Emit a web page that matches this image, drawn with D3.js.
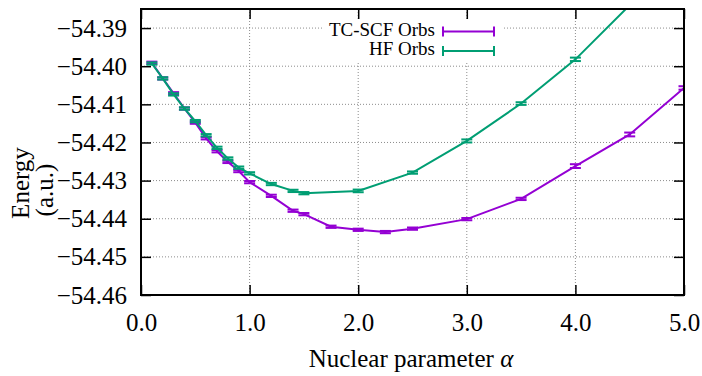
<!DOCTYPE html>
<html>
<head>
<meta charset="utf-8">
<script src="https://cdn.jsdelivr.net/npm/d3@7"></script>
<style>
body { margin: 0; background: #fff; }
#graph text { font-family: "Liberation Serif", serif; }
</style>
</head>
<body>
<svg id="graph" width="702" height="376"></svg>
<script>
// datos
var alphaTC = [0.1, 0.2, 0.3, 0.4, 0.5, 0.6, 0.7, 0.8, 0.9, 1.0, 1.2, 1.4, 1.5, 1.75, 2.0, 2.25, 2.5, 3.0, 3.5, 4.0, 4.5, 5.0];
var energyTC = [-54.3991, -54.4032, -54.4071, -54.4111, -54.4148, -54.4189, -54.4223, -54.4251, -54.4275, -54.4304,
    -54.4340, -54.4379, -54.4388, -54.4421, -54.4429, -54.4435, -54.4426, -54.4401, -54.4348, -54.4262, -54.4179, -54.4057];
var errTC = [0.0003, 0.0003, 0.0003, 0.0003, 0.0003, 0.0003, 0.0003, 0.0003, 0.0003, 0.0003,
    0.0003, 0.0003, 0.0003, 0.0003, 0.0003, 0.0003, 0.0003, 0.0003, 0.0003, 0.0005, 0.0005, 0.00045];

var alphaHF = [0.1, 0.2, 0.3, 0.4, 0.5, 0.6, 0.7, 0.8, 0.9, 1.0, 1.2, 1.4, 1.5, 2.0, 2.5, 3.0, 3.5, 4.0, 4.5];
var energyHF = [-54.3993, -54.4032, -54.4074, -54.4111, -54.4144, -54.4181, -54.4214, -54.4242, -54.4266, -54.4281,
    -54.4309, -54.4327, -54.4333, -54.4327, -54.4279, -54.4196, -54.4098, -54.3982, -54.3840];
var errHF = [0.0003, 0.0003, 0.0003, 0.0003, 0.0003, 0.0003, 0.0003, 0.0003, 0.0003, 0.0003,
    0.0003, 0.0003, 0.0003, 0.00035, 0.0003, 0.0004, 0.00035, 0.00045, 0.0005];

var seriesNames = ["TC-SCF Orbs", "HF Orbs"];
var colores = ["#9400d3", "#009e73"];

var xTicks = [0, 1, 2, 3, 4, 5];
var yTicks = [-54.46, -54.45, -54.44, -54.43, -54.42, -54.41, -54.40, -54.39];

function creaGrafica() {
    var series = [
        { name: seriesNames[0], color: colores[0], pts: alphaTC.map((a, i) => ({ a: a, e: energyTC[i], err: errTC[i] })) },
        { name: seriesNames[1], color: colores[1], pts: alphaHF.map((a, i) => ({ a: a, e: energyHF[i], err: errHF[i] })) }
    ];

    var svg = d3.select("#graph");
    var margin = { top: 9, right: 18, bottom: 81, left: 141 };
    var width = +svg.attr("width") - margin.left - margin.right;
    var height = +svg.attr("height") - margin.top - margin.bottom;
    var g = svg.append("g").attr("transform", "translate(" + margin.left + "," + margin.top + ")");

    var x = d3.scaleLinear().domain([0, 5]).range([0, width]);
    var y = d3.scaleLinear().domain([-54.46, -54.385]).range([height, 0]);

    // clip para el area de la grafica
    svg.append("defs").append("clipPath").attr("id", "clip")
        .append("rect").attr("width", width).attr("height", height);

    // grid punteado
    var grid = g.append("g").attr("class", "grid")
        .attr("stroke", "#8c8c8c").attr("stroke-width", 1).attr("stroke-dasharray", "1,2");
    grid.selectAll(".gx").data(xTicks.slice(1, -1)).enter().append("line")
        .attr("x1", d => x(d)).attr("x2", d => x(d))
        .attr("y1", 0).attr("y2", height);
    grid.selectAll(".gy").data(yTicks.slice(1)).enter().append("line")
        .attr("x1", 0).attr("x2", width)
        .attr("y1", d => y(d)).attr("y2", d => y(d));

    // ejes con ticks hacia adentro
    var fmtX = d3.format(".1f"), fmtY = d3.format(".2f");
    var xaxis = g.append("g").attr("transform", "translate(0," + height + ")")
        .call(d3.axisBottom(x).tickValues(xTicks).tickFormat(fmtX).tickSizeInner(-10).tickSizeOuter(0).tickPadding(18));
    var xaxisTop = g.append("g")
        .call(d3.axisTop(x).tickValues(xTicks).tickFormat("").tickSizeInner(-10).tickSizeOuter(0));
    var yaxis = g.append("g")
        .call(d3.axisLeft(y).tickValues(yTicks).tickFormat(fmtY).tickSizeInner(-10).tickSizeOuter(0).tickPadding(14));
    var yaxisR = g.append("g").attr("transform", "translate(" + width + ",0)")
        .call(d3.axisRight(y).tickValues(yTicks).tickFormat("").tickSizeInner(-10).tickSizeOuter(0));

    [xaxis, xaxisTop, yaxis, yaxisR].forEach(a => {
        a.attr("font-family", "Liberation Serif").attr("font-size", 25);
        a.select(".domain").remove();
        a.selectAll("line").attr("stroke", "#000").attr("stroke-width", 1.5);
        a.selectAll("text")
            .attr("font-family", "Liberation Serif")
            .style("font-size", "25px")
            .attr("fill", "#000");
    });

    // lineas + barras de error
    var plot = g.append("g").attr("clip-path", "url(#clip)");
    var line = d3.line().x(d => x(d.a)).y(d => y(d.e));
    var capW = 5.5;

    series.forEach(s => {
        plot.append("path").datum(s.pts)
            .attr("d", line)
            .attr("fill", "none")
            .attr("stroke", s.color)
            .attr("stroke-width", 2);

        var eb = plot.append("g").attr("stroke", s.color).attr("stroke-width", 2)
            .selectAll("g").data(s.pts).enter().append("g");
        eb.append("line")
            .attr("x1", d => x(d.a)).attr("x2", d => x(d.a))
            .attr("y1", d => y(d.e - d.err)).attr("y2", d => y(d.e + d.err));
        eb.append("line")
            .attr("x1", d => x(d.a) - capW).attr("x2", d => x(d.a) + capW)
            .attr("y1", d => y(d.e - d.err)).attr("y2", d => y(d.e - d.err));
        eb.append("line")
            .attr("x1", d => x(d.a) - capW).attr("x2", d => x(d.a) + capW)
            .attr("y1", d => y(d.e + d.err)).attr("y2", d => y(d.e + d.err));
    });

    // borde
    g.append("rect").attr("width", width).attr("height", height)
        .attr("fill", "none").attr("stroke", "#000").attr("stroke-width", 2);

    // leyenda (caja opaca)
    svg.append("rect").attr("x", 322).attr("y", 21).attr("width", 180).attr("height", 40).attr("fill", "#fff");
    var leg = svg.append("g").selectAll("g").data(series).enter().append("g")
        .attr("transform", (d, i) => "translate(0," + (31.5 + i * 19.5) + ")");
    leg.append("text")
        .attr("x", 435).attr("y", 4)
        .attr("text-anchor", "end")
        .style("font-size", "19px")
        .text(d => d.name);
    leg.append("line").attr("x1", 443).attr("x2", 494).attr("y1", 0).attr("y2", 0)
        .attr("stroke", d => d.color).attr("stroke-width", 2);
    leg.append("line").attr("x1", 443).attr("x2", 443).attr("y1", -5).attr("y2", 5)
        .attr("stroke", d => d.color).attr("stroke-width", 2);
    leg.append("line").attr("x1", 494).attr("x2", 494).attr("y1", -5).attr("y2", 5)
        .attr("stroke", d => d.color).attr("stroke-width", 2);

    // titulos de ejes
    var xl = svg.append("text")
        .attr("x", 411).attr("y", 367)
        .attr("text-anchor", "middle")
        .style("font-size", "25px");
    xl.append("tspan").text("Nuclear parameter ");
    xl.append("tspan").attr("font-style", "italic").text("α");

    svg.append("text")
        .attr("transform", "translate(29,183) rotate(-90)")
        .attr("text-anchor", "middle")
        .style("font-size", "25px")
        .text("Energy");
    svg.append("text")
        .attr("transform", "translate(53,190) rotate(-90)")
        .attr("text-anchor", "middle")
        .style("font-size", "25px")
        .text("(a.u.)");
}

creaGrafica();
</script>
</body>
</html>
